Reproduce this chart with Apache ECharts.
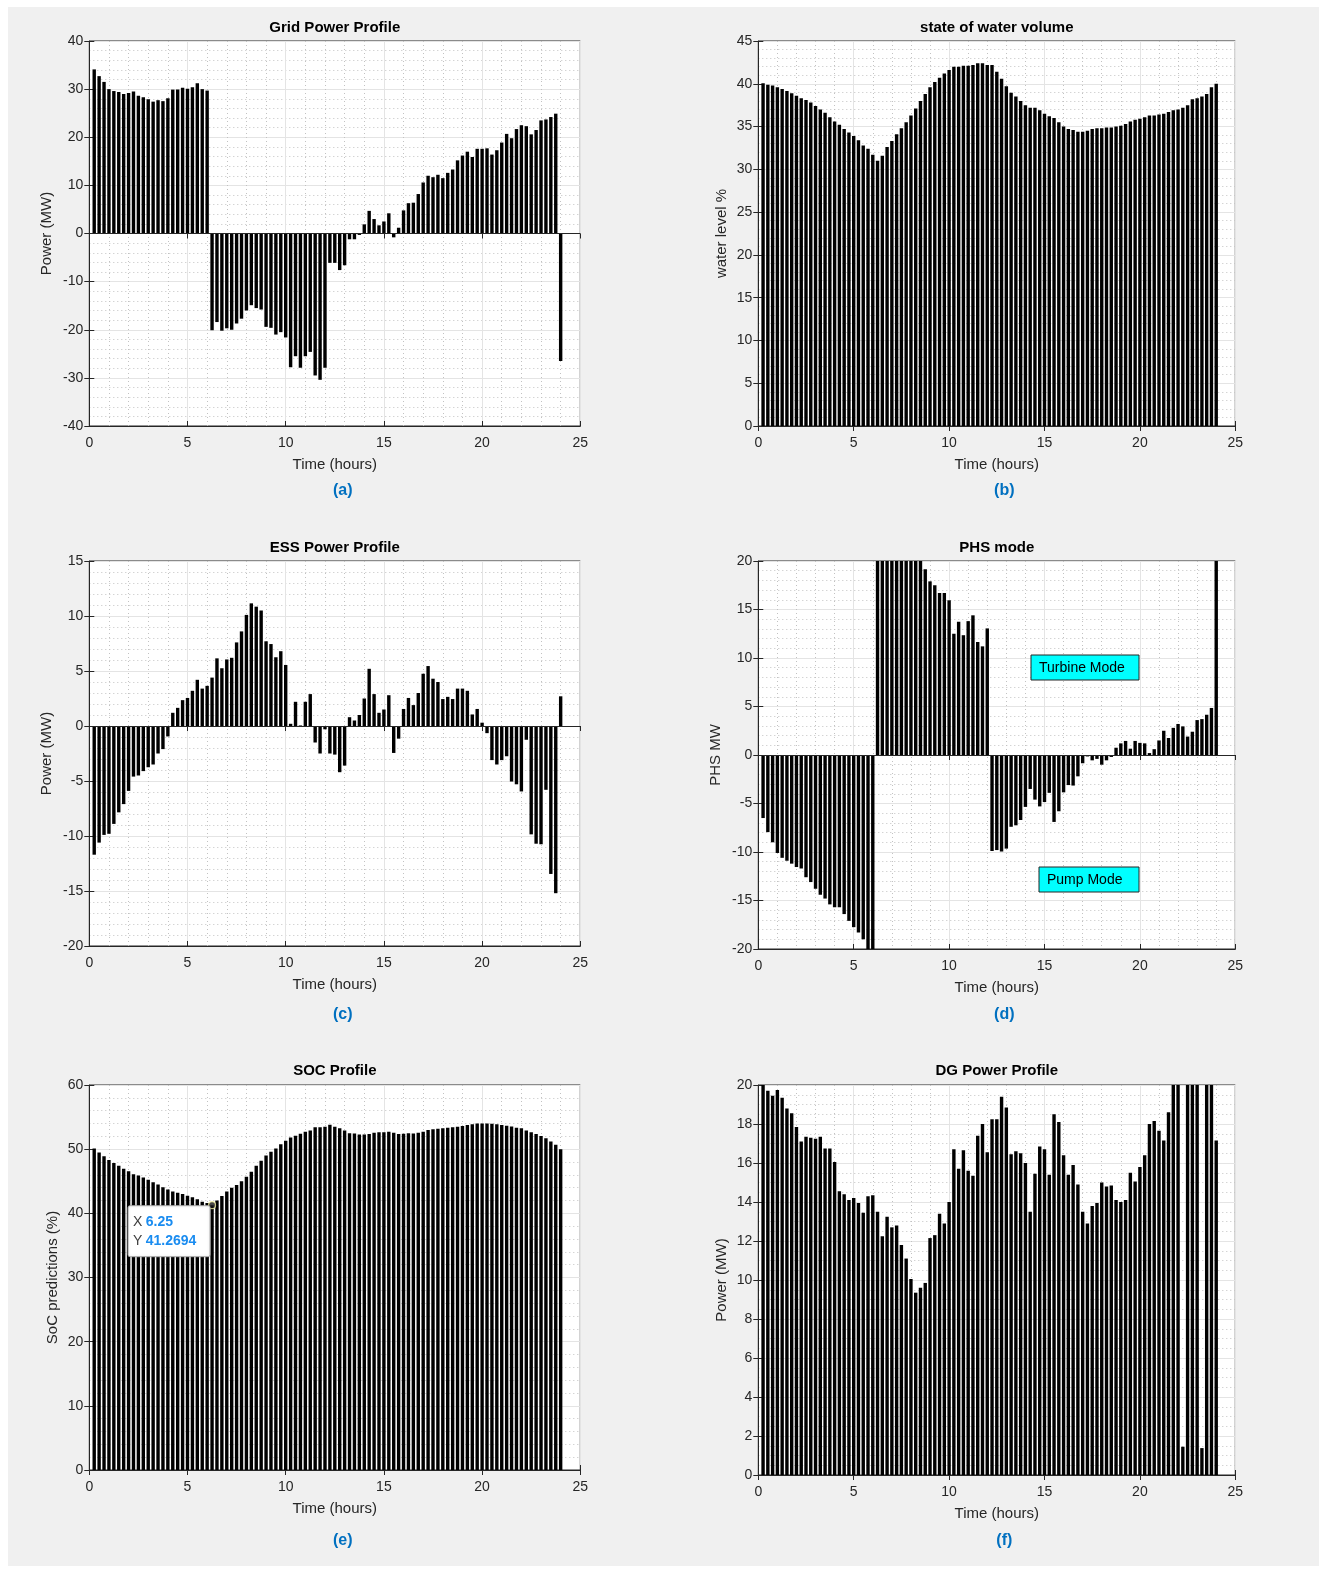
<!DOCTYPE html>
<html>
<head>
<meta charset="utf-8">
<title>Energy profiles</title>
<script src="https://cdn.jsdelivr.net/npm/echarts@6/dist/echarts.min.js"></script>
<style>
  html, body { margin: 0; padding: 0; background: #fff; }
  #frame { position: absolute; left: 8px; top: 7px; width: 1311px; height: 1559px; background: #f0f0f0; }
  #charts { position: absolute; left: 0; top: 0; width: 1323px; height: 1572px; }
</style>
</head>
<body>
<div id="frame"></div>
<div id="charts"></div>
<script>
// time steps (hours), one bar every 15 minutes
var hours = [0.25, 0.5, 0.75, 1, 1.25, 1.5, 1.75, 2, 2.25, 2.5, 2.75, 3, 3.25, 3.5, 3.75, 4,
  4.25, 4.5, 4.75, 5, 5.25, 5.5, 5.75, 6, 6.25, 6.5, 6.75, 7, 7.25, 7.5, 7.75, 8,
  8.25, 8.5, 8.75, 9, 9.25, 9.5, 9.75, 10, 10.25, 10.5, 10.75, 11, 11.25, 11.5, 11.75, 12,
  12.25, 12.5, 12.75, 13, 13.25, 13.5, 13.75, 14, 14.25, 14.5, 14.75, 15, 15.25, 15.5, 15.75, 16,
  16.25, 16.5, 16.75, 17, 17.25, 17.5, 17.75, 18, 18.25, 18.5, 18.75, 19, 19.25, 19.5, 19.75, 20,
  20.25, 20.5, 20.75, 21, 21.25, 21.5, 21.75, 22, 22.25, 22.5, 22.75, 23, 23.25, 23.5, 23.75, 24];

var gridPower = [34.1, 32.7, 31.5, 30.0, 29.6, 29.4, 29.0, 29.2, 29.5, 28.6, 28.3, 27.9, 27.4, 27.7, 27.5, 28.1,
  29.9, 29.9, 30.3, 30.1, 30.4, 31.2, 30.0, 29.7,
  -20.1, -18.4, -20.2, -19.7, -20.0, -18.7, -17.7, -16.0, -14.9, -15.5, -15.8, -19.4, -19.6, -21.0, -20.5, -21.6,
  -27.8, -25.5, -27.9, -25.5, -24.6, -29.5, -30.4, -27.9,
  -6.1, -6.1, -7.6, -6.6, -1.2, -1.2, -0.3, 1.9, 4.7, 3.0, 1.7, 2.5, 4.2, -0.8, 1.2, 4.8,
  6.3, 6.4, 8.2, 10.6, 12.0, 11.7, 12.2, 11.5, 12.6, 13.3, 15.2, 16.2, 17.0, 15.9, 17.6, 17.6,
  17.7, 16.4, 17.3, 18.9, 20.7, 19.8, 21.7, 22.5, 22.3, 20.6, 21.5, 23.5, 23.7, 24.2, 24.9, -26.5];

var waterLevel = [40.05, 39.9, 39.8, 39.6, 39.4, 39.15, 38.9, 38.6, 38.3, 38.1, 37.8, 37.4, 37.0, 36.6, 36.1, 35.6,
  35.2, 34.7, 34.3, 33.9, 33.4, 32.8, 32.4, 31.7,
  31.0, 31.6, 32.6, 33.3, 34.1, 34.8, 35.5, 36.3, 37.1, 38.0, 38.8, 39.6, 40.2, 40.7, 41.2, 41.6,
  42.0, 42.0, 42.1, 42.1, 42.2, 42.4, 42.4, 42.2,
  42.2, 41.4, 40.6, 39.7, 38.95, 38.5, 38.0, 37.5, 37.2, 37.2, 36.9,
  36.5, 36.2, 36.0, 35.5, 35.0, 34.7, 34.6, 34.4, 34.4, 34.5, 34.7, 34.8, 34.8, 34.9, 34.9, 35.0,
  35.1, 35.3, 35.6, 35.8, 35.9, 36.1, 36.3, 36.3, 36.4, 36.5, 36.7, 36.9, 37.0, 37.2, 37.5, 38.2,
  38.3, 38.5, 38.8, 39.6, 40.0];

var essPower = [-11.7, -10.6, -9.9, -9.8, -8.9, -7.85, -7.1, -5.9, -4.6, -4.5, -4.1, -3.75, -3.5, -2.5, -2.1, -0.95,
  1.2, 1.65, 2.35, 2.55, 3.2, 4.2, 3.4, 3.65,
  4.4, 6.15, 5.25, 6.05, 6.2, 7.6, 8.6, 10.1, 11.15, 10.85, 10.5, 7.7, 7.45, 6.25, 6.8, 5.55,
  0.2, 2.2, 0.05, 2.2, 2.9, -1.5, -2.5, -0.3,
  -2.5, -2.6, -4.2, -3.6, 0.8, 0.5, 1.0, 2.5, 5.2, 2.9, 1.2, 1.5, 2.8, -2.45, -1.15, 1.55,
  2.55, 1.9, 3.0, 4.75, 5.45, 4.3, 4.0, 2.45, 2.65, 2.45, 3.4, 3.4, 3.2, 1.05, 1.55, 0.3,
  -0.65, -3.1, -3.5, -3.1, -2.75, -5.05, -5.3, -5.95, -1.25, -9.85, -10.7, -10.75, -5.8, -13.45, -15.2, 2.7];

var phsPower = [-6.5, -7.95, -9.0, -10.1, -10.6, -10.9, -11.2, -11.55, -11.7, -12.6, -13.1, -13.8, -14.4, -14.8, -15.4, -15.7,
  -15.7, -16.4, -17.1, -17.75, -18.3, -19.0, -22, -22,
  22, 22, 22, 22, 22, 22, 22, 22, 22, 22, 19.15, 17.9, 17.5, 16.7, 16.7, 15.95,
  12.5, 13.75, 12.35, 13.8, 14.4, 11.65, 11.2, 13.05,
  -9.9, -9.8, -9.95, -9.65, -7.4, -7.25, -6.7, -5.35, -3.5, -4.6, -5.3, -4.85, -3.9, -6.9, -5.8, -3.85,
  -3.1, -3.15, -2.2, -0.85, -0.15, -0.55, -0.4, -1.0, -0.55, -0.2, 0.75, 1.2, 1.45, 0.65, 1.45, 1.25,
  1.2, 0.2, 0.6, 1.5, 2.5, 1.75, 2.8, 3.2, 2.95, 1.9, 2.4, 3.6, 3.7, 4.15, 4.85, 22];

var soc = [50.1, 49.5, 48.9, 48.3, 47.85, 47.4, 46.95, 46.55, 46.1, 45.9, 45.6, 45.25, 44.85, 44.5, 44.05, 43.7,
  43.4, 43.2, 43.0, 42.75, 42.5, 42.2, 41.8, 41.6,
  41.2694, 42.0, 42.7, 43.4, 44.0, 44.4, 45.0, 45.7, 46.5, 47.4, 48.2, 49.0, 49.6, 50.1, 50.75, 51.3,
  51.8, 52.1, 52.4, 52.7, 52.9, 53.4, 53.4, 53.5,
  53.8, 53.5, 53.25, 52.9, 52.5, 52.45, 52.3, 52.3, 52.35, 52.55, 52.65, 52.65, 52.7, 52.55, 52.35, 52.4,
  52.5, 52.45, 52.55, 52.7, 53.0, 53.1, 53.2, 53.25, 53.35, 53.4, 53.5, 53.6, 53.75, 53.9, 54.0, 54.0,
  54.0, 53.95, 53.9, 53.75, 53.65, 53.55, 53.35, 53.25, 52.9, 52.65, 52.35, 52.05, 51.7, 51.2, 50.7, 50.0];

var dgPower = [21, 19.7, 19.45, 19.75, 19.35, 18.8, 18.55, 17.85, 17.1, 17.35, 17.3, 17.25, 17.35, 16.75, 16.75, 16.05,
  14.55, 14.4, 14.1, 14.2, 13.95, 13.45, 14.3, 14.35,
  13.5, 12.25, 13.25, 12.7, 12.8, 11.8, 11.1, 10.05, 9.35, 9.6, 9.85, 12.15, 12.3, 13.4, 12.9, 14.0,
  16.7, 15.7, 16.65, 15.6, 15.35, 17.4, 18.0, 16.55,
  18.25, 18.25, 19.4, 18.85, 16.45, 16.6, 16.5, 16.0, 13.5, 15.45, 16.85, 16.7, 15.4, 18.5, 18.1, 16.4,
  15.4, 15.9, 14.9, 13.5, 12.9, 13.8, 13.95, 15.0, 14.8, 14.85, 14.1, 14.0, 14.1, 15.5, 15.05, 15.8,
  16.4, 18.0, 18.15, 17.65, 17.15, 18.6, 21, 21, 1.45, 21, 21, 21, 1.38, 21, 21, 17.15];

// data tip shown on the SOC plot
var tipX = 6.25;
var tipY = 41.2694;

var FONT = '"Liberation Sans", Arial, sans-serif';
var AXIS = '#262626';

var panels = [
  { title: 'Grid Power Profile', caption: '(a)', yName: 'Power (MW)', values: gridPower,
    min: -40, max: 40, step: 10, minor: 5, box: [89.3, 41, 491, 385], yGap: 35, titleY: 27.5, capY: 491 },
  { title: 'state of water volume', caption: '(b)', yName: 'water level %', values: waterLevel,
    min: 0, max: 45, step: 5, minor: 5, box: [758.3, 41, 477, 385], yGap: 29, titleY: 27.5, capY: 491 },
  { title: 'ESS Power Profile', caption: '(c)', yName: 'Power (MW)', values: essPower,
    min: -20, max: 15, step: 5, minor: 5, box: [89.3, 561, 491, 385], yGap: 35, titleY: 547.5, capY: 1015 },
  { title: 'PHS mode', caption: '(d)', yName: 'PHS MW', values: phsPower,
    min: -20, max: 20, step: 5, minor: 5, box: [758.3, 561, 477, 388], yGap: 35, titleY: 547.5, capY: 1015 },
  { title: 'SOC Profile', caption: '(e)', yName: 'SoC predictions (%)', values: soc,
    min: 0, max: 60, step: 10, minor: 5, box: [89.3, 1085, 491, 385], yGap: 29, titleY: 1071, capY: 1541 },
  { title: 'DG Power Profile', caption: '(f)', yName: 'Power (MW)', values: dgPower,
    min: 0, max: 20, step: 2, minor: 4, box: [758.3, 1085, 477, 390], yGap: 29, titleY: 1071, capY: 1541 }
];

var grids = [], xAxes = [], yAxes = [], mirrorX = [], mirrorY = [], series = [], graphic = [];

var majorLine = { show: true, lineStyle: { color: '#e4e4e4', width: 1 } };
var minorLine = { show: true, lineStyle: { color: '#c2c2c2', width: 1, type: [1, 3] } };

panels.forEach(function (p, i) {
  var left = p.box[0], top = p.box[1], w = p.box[2], h = p.box[3];
  var isLeft = left < 400;

  grids.push({
    left: left, top: top, width: w, height: h,
    show: true, backgroundColor: '#fff', borderColor: AXIS, borderWidth: 1
  });

  xAxes.push({
    type: 'value', gridIndex: i, min: 0, max: 25, interval: 5,
    name: 'Time (hours)', nameLocation: 'middle', nameGap: 31,
    nameTextStyle: { fontFamily: FONT, fontSize: 15, color: AXIS },
    axisLine: { onZero: false, lineStyle: { color: AXIS } },
    axisTick: { inside: true, length: 5, lineStyle: { color: AXIS } },
    axisLabel: { fontFamily: FONT, fontSize: 14, color: AXIS, margin: 10 },
    splitLine: majorLine,
    minorTick: { show: false, splitNumber: 5 },
    minorSplitLine: minorLine
  });
  yAxes.push({
    type: 'value', gridIndex: i, min: p.min, max: p.max, interval: p.step,
    name: p.yName, nameLocation: 'middle', nameGap: p.yGap,
    nameTextStyle: { fontFamily: FONT, fontSize: 15, color: AXIS },
    axisLine: { show: true, onZero: false, lineStyle: { color: AXIS } },
    axisTick: { show: true, inside: true, length: 5, lineStyle: { color: AXIS } },
    axisLabel: { fontFamily: FONT, fontSize: 14, color: AXIS, margin: 6 },
    splitLine: majorLine,
    minorTick: { show: false, splitNumber: p.minor },
    minorSplitLine: minorLine
  });

  // ticks on the top and right edges of the box
  mirrorX.push({
    type: 'value', gridIndex: i, position: 'top', min: 0, max: 25, interval: 5,
    axisLine: { show: false }, axisLabel: { show: false }, splitLine: { show: false },
    axisTick: { inside: true, length: 5, lineStyle: { color: AXIS } }
  });
  mirrorY.push({
    type: 'value', gridIndex: i, position: 'right', min: p.min, max: p.max, interval: p.step,
    axisLine: { show: false }, axisLabel: { show: false }, splitLine: { show: false },
    axisTick: { show: true, inside: true, length: 5, lineStyle: { color: AXIS } }
  });

  var s = {
    type: 'bar', xAxisIndex: i, yAxisIndex: i, clip: true, silent: true,
    barWidth: 3.4,
    itemStyle: { color: '#000' },
    data: hours.map(function (t, k) { return [t, p.values[k]]; })
  };
  if (p.min < 0) {
    s.markLine = {
      silent: true, symbol: 'none', label: { show: false },
      lineStyle: { color: AXIS, width: 1, type: 'solid' },
      data: [{ yAxis: 0 }]
    };
  }
  series.push(s);

  graphic.push({
    type: 'text', x: left + w / 2, y: p.titleY, z: 100,
    style: { text: p.title, fill: '#000', font: 'bold 15px ' + FONT, align: 'center', verticalAlign: 'middle' }
  });
  graphic.push({
    type: 'text', x: isLeft ? 342.8 : 1004.3, y: p.capY, z: 100,
    style: { text: p.caption, fill: '#0070c0', font: 'bold 16px ' + FONT, align: 'center', verticalAlign: 'middle' }
  });
});

// data tip marker on SOC bar
series.push({
  type: 'scatter', xAxisIndex: 4, yAxisIndex: 4, z: 10, silent: true,
  data: [[tipX, tipY]], symbolSize: 7,
  itemStyle: { color: '#1a1a1a', borderColor: '#f3f0a0', borderWidth: 1.2 }
});

// mode annotations on PHS plot
graphic.push(
  { type: 'rect', z: 100, shape: { x: 1031, y: 655, width: 108, height: 25 },
    style: { fill: '#00ffff', stroke: AXIS, lineWidth: 1 } },
  { type: 'text', z: 101, x: 1039, y: 668.5,
    style: { text: 'Turbine Mode', fill: '#000', font: '14px ' + FONT, verticalAlign: 'middle' } },
  { type: 'rect', z: 100, shape: { x: 1039, y: 867, width: 100, height: 25 },
    style: { fill: '#00ffff', stroke: AXIS, lineWidth: 1 } },
  { type: 'text', z: 101, x: 1047, y: 880.5,
    style: { text: 'Pump Mode', fill: '#000', font: '14px ' + FONT, verticalAlign: 'middle' } }
);

var chart = echarts.init(document.getElementById('charts'));
chart.setOption({
  animation: false,
  textStyle: { fontFamily: FONT },
  grid: grids,
  xAxis: xAxes.concat(mirrorX),
  yAxis: yAxes.concat(mirrorY),
  series: series,
  graphic: graphic
});

// data tip box, anchored to the marker through the SOC axes
var pt = chart.convertToPixel({ xAxisIndex: 4, yAxisIndex: 4 }, [tipX, tipY]);
var bx = pt[0] - 84, by = pt[1] + 0.5;
graphic.push(
  { type: 'rect', z: 100, shape: { x: bx, y: by, width: 82, height: 51, r: 2 },
    style: { fill: '#fff', stroke: '#a8a8a8', lineWidth: 1, shadowBlur: 3, shadowColor: 'rgba(0,0,0,0.15)' } },
  { type: 'text', z: 101, x: bx + 5, y: by + 16,
    style: { text: '{k|X} {v|' + tipX + '}', verticalAlign: 'middle',
      rich: { k: { font: '14px ' + FONT, fill: '#404040' }, v: { font: 'bold 14px ' + FONT, fill: '#1a8cf0' } } } },
  { type: 'text', z: 101, x: bx + 5, y: by + 35,
    style: { text: '{k|Y} {v|' + tipY + '}', verticalAlign: 'middle',
      rich: { k: { font: '14px ' + FONT, fill: '#404040' }, v: { font: 'bold 14px ' + FONT, fill: '#1a8cf0' } } } }
);
chart.setOption({ graphic: graphic });
</script>
</body>
</html>
